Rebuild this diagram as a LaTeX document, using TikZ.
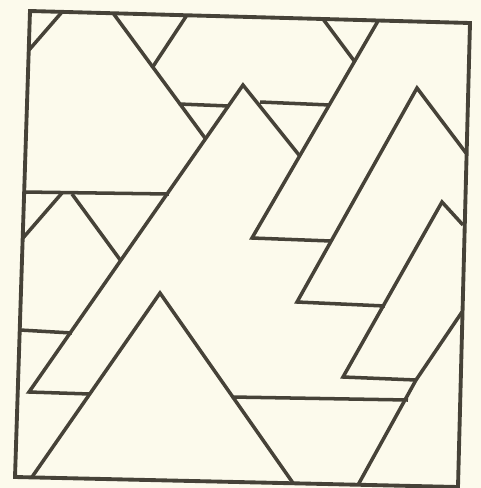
\documentclass[tikz,border=0pt]{standalone}
\usepackage{tikz}
\usetikzlibrary{calc}
\definecolor{cPaper}{RGB}{252,250,236}
\definecolor{cInk}{RGB}{70,66,56}
\tikzset{
  frameline/.style={draw=cInk,line width=2.2pt,line join=miter},
  inkline/.style={draw=cInk,line width=2pt,line join=miter,line cap=butt}
}
\begin{document}
\begin{tikzpicture}[x=0.02cm,y=-0.02cm]
  % paper and bounding box
  \fill[cPaper] (0,0) rectangle (481,488);
  \useasboundingbox (0,0) rectangle (481,488);

  % outer frame
  \coordinate (tl) at (30,11);
  \coordinate (tr) at (470,23);
  \coordinate (br) at (458,487);
  \coordinate (bl) at (15,477);
  \draw[frameline] (tl) -- (tr) -- (br) -- (bl) -- cycle;

  % peaks
  \coordinate (pBig) at (243,85);
  \coordinate (pLow) at (160,293);
  \coordinate (pOne) at (417,88);
  \coordinate (pTwo) at (442,202);

  % upper left corner
  \draw[inkline] (62,12) -- (29,50);
  \draw[inkline] (113,13) -- (205,138);
  \draw[inkline] (187,15) -- (152,68);
  \draw[inkline] (179,104) -- (229,106);

  % large strip with its peak
  \draw[inkline] (90,394) -- (29,392) -- (pBig) -- (299,155);
  \draw[inkline] (24,192) -- (169,194);
  \draw[inkline] (62,193) -- (23,238);
  \draw[inkline] (72,194) -- (121,261);
  \draw[inkline] (20,330) -- (72,333);

  % lower triangle
  \draw[inkline] (32,477) -- (pLow) -- (293,483);
  \draw[inkline] (232,397) -- (408,400);

  % upper middle strip
  \draw[inkline] (323,19) -- (355,62);
  \draw[inkline] (378,21) -- (252,238) -- (331,241);
  \draw[inkline] (260,102) -- (330,105);

  % right strips
  \draw[inkline] (385,306) -- (297,302) -- (pOne) -- (466,153);
  \draw[inkline] (416,380) -- (343,377) -- (pTwo) -- (463,225);
  \draw[inkline] (358,485) -- (416,380) -- (462,312);
\end{tikzpicture}
\end{document}
